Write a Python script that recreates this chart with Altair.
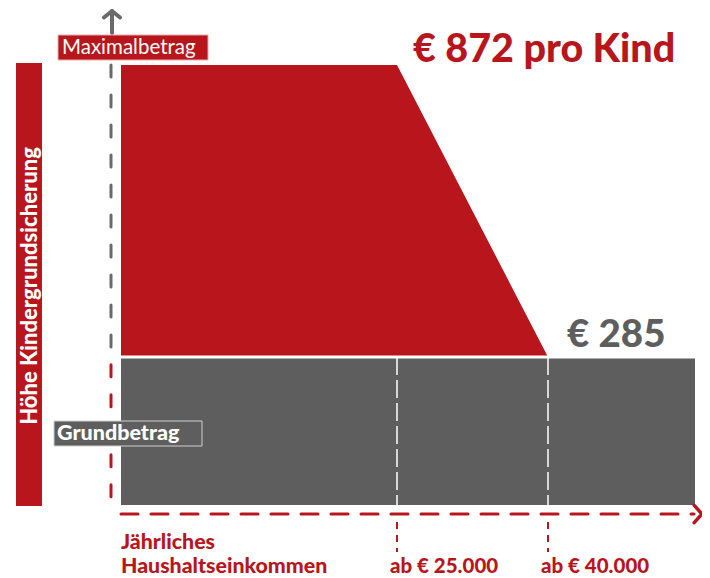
import altair as alt
import pandas as pd

# ---- data ----
income = [0, 25000, 40000, 52000]          # yearly household income (EUR)
betrag_max = [872, 872, 285, 285]          # upper edge of the red area (EUR per child)
grundbetrag = [285, 285, 285, 285]         # base amount (EUR per child)
tick_income = [25000, 40000]
tick_labels = ["ab € 25.000", "ab € 40.000"]

RED = "#B8161C"
GRAY = "#5E5E5E"
AXGRAY = "#6A6A6A"
FONT = "Lato"
HEAVY = 900

df = pd.DataFrame({"income": income, "max": betrag_max, "base": grundbetrag, "zero": [0] * len(income)})
ticks = pd.DataFrame({"tick": tick_income, "label": tick_labels, "base": [grundbetrag[0]] * 2, "zero": [0, 0]})
ann = pd.DataFrame({
    "x0": [income[0]], "xend": [income[-1]], "x25": [tick_income[0]], "x40": [tick_income[1]],
    "ymax": [betrag_max[0]], "ybase": [grundbetrag[0]], "ysplit": [270], "yzero": [0],
})

xs = alt.Scale(domain=[0, 25000, 40000, 52000], range=[113, 389, 540, 687], nice=False, zero=False)
ys = alt.Scale(domain=[0, 285, 872], range=[497, 349, 57], nice=False, zero=False)


def X(field):
    return alt.X(field, type="quantitative", scale=xs, axis=None)


def Y(field):
    return alt.Y(field, type="quantitative", scale=ys, axis=None)


red_area = alt.Chart(df).mark_area(color=RED, interpolate="linear").encode(
    x=X("income"), y=Y("max"), y2="base"
)
gray_area = alt.Chart(df).mark_area(color=GRAY, interpolate="linear").encode(
    x=X("income"), y=Y("base"), y2="zero"
)
A = alt.Chart(ann)
sep = A.mark_rule(color="white", strokeWidth=3).encode(
    x=X("x0"), x2="xend", y=Y("ybase")
)
white_dash = alt.Chart(ticks).mark_rule(color="white", strokeWidth=1.5, strokeDash=[18, 5]).encode(
    x=X("tick"), y=Y("base"), y2="zero"
)

# y axis (dashed) and up arrow
yaxis_top = A.mark_rule(color=AXGRAY, strokeWidth=3, strokeDash=[12, 18], strokeCap="round").encode(
    x=alt.value(103), y=Y("ymax"), y2="ybase"
)
yaxis_bot = A.mark_rule(color=RED, strokeWidth=3, strokeDash=[12, 18], strokeCap="round").encode(
    x=alt.value(103), y=Y("ysplit"), y2="yzero"
)
up_shaft = A.mark_rule(color=AXGRAY, strokeWidth=4, strokeCap="round").encode(
    x=alt.value(104), y=alt.value(3), y2=alt.value(25)
)
up_head = A.mark_point(
    shape="M-1,0.8L0,0L1,0.8", filled=False, color=AXGRAY, strokeWidth=4, size=260, opacity=1,
    strokeCap="round", strokeJoin="round"
).encode(x=alt.value(104), y=alt.value(3))

# x axis (dashed) and right arrow
xaxis = A.mark_rule(color=RED, strokeWidth=3, strokeDash=[17, 13], strokeCap="round").encode(
    x=X("x0"), x2=alt.value(686), y=alt.value(506)
)
right_head = A.mark_point(
    shape="M-0.9,-1L0,0L-0.9,1", filled=False, color=RED, strokeWidth=3.5, size=300, opacity=1,
    strokeCap="round", strokeJoin="round"
).encode(x=alt.value(694), y=alt.value(506))
tick_rules = alt.Chart(ticks).mark_rule(color=RED, strokeWidth=2, strokeDash=[7, 6]).encode(
    x=X("tick"), y=alt.value(514), y2=alt.value(544)
)
tick_text = alt.Chart(ticks).mark_text(
    font=FONT, fontWeight=HEAVY, fontSize=20.5, color=RED, align="left", baseline="alphabetic", dx=-7
).encode(x=X("tick"), y=alt.value(565), text="label:N")

xtitle1 = A.mark_text(
    font=FONT, fontWeight=HEAVY, fontSize=21.3, color=RED, align="left", baseline="alphabetic"
).encode(x=X("x0"), y=alt.value(541), text=alt.value("Jährliches"))
xtitle2 = A.mark_text(
    font=FONT, fontWeight=HEAVY, fontSize=21.3, color=RED, align="left", baseline="alphabetic"
).encode(x=X("x0"), y=alt.value(565), text=alt.value("Haushaltseinkommen"))

# vertical title bar
ybar = A.mark_rect(color=RED).encode(
    x=alt.value(8), x2=alt.value(34), y=alt.value(55), y2=alt.value(498)
)
ytitle = A.mark_text(
    font=FONT, fontWeight=HEAVY, fontSize=22, color="white", angle=270, align="center", baseline="middle"
).encode(x=alt.value(22), y=alt.value(278), text=alt.value("Höhe Kindergrundsicherung"))

# label boxes
max_box = A.mark_rect(color=RED, stroke="#E9A9AB", strokeWidth=1).encode(
    x=alt.value(50), x2=alt.value(200), y=alt.value(27), y2=alt.value(52)
)
max_text = A.mark_text(
    font=FONT, fontSize=20.5, color="white", align="left", baseline="middle"
).encode(x=alt.value(54), y=alt.value(40), text=alt.value("Maximalbetrag"))
grund_box = A.mark_rect(color=GRAY, stroke="#D0D0D0", strokeWidth=1).encode(
    x=alt.value(46), x2=alt.value(194), y=alt.value(413), y2=alt.value(438)
)
grund_text = A.mark_text(
    font=FONT, fontWeight=HEAVY, fontSize=21.5, color="white", align="left", baseline="middle"
).encode(x=alt.value(49), y=alt.value(426), text=alt.value("Grundbetrag"))

# value annotations
max_label = A.mark_text(
    font=FONT, fontWeight=HEAVY, fontSize=39.5, color=RED, align="left", baseline="alphabetic", dx=16, dy=-3
).encode(x=X("x25"), y=Y("ymax"), text=alt.value("€ 872 pro Kind"))
base_label = A.mark_text(
    font=FONT, fontWeight=HEAVY, fontSize=38.5, color=GRAY, align="left", baseline="alphabetic", dx=19, dy=-10
).encode(x=X("x40"), y=Y("ybase"), text=alt.value("€ 285"))

chart = alt.layer(
    red_area, gray_area, sep, white_dash,
    yaxis_top, yaxis_bot, up_shaft, up_head,
    xaxis, right_head, tick_rules, tick_text, xtitle1, xtitle2,
    ybar, ytitle, max_box, max_text, grund_box, grund_text,
    max_label, base_label,
).properties(
    width=694, height=570, autosize=alt.AutoSizeParams(type="none"), padding=0
).configure_view(stroke=None)

chart.save("out.html", embed_options={"renderer": "svg", "actions": False})
